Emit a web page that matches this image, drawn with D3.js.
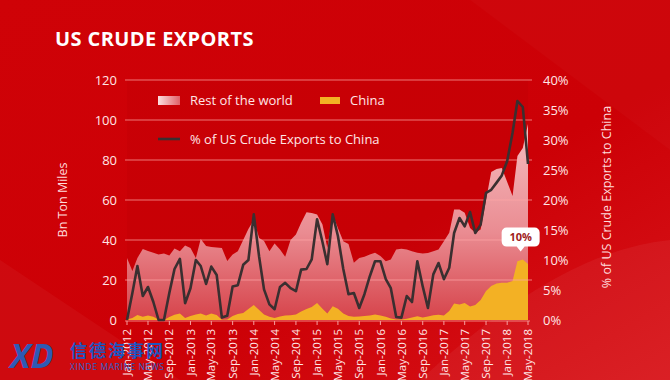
<!DOCTYPE html>
<html><head><meta charset="utf-8">
<script src="https://cdn.jsdelivr.net/npm/d3@7"></script>
<style>
html,body{margin:0;padding:0;background:#cc0000;}
svg{display:block;font-family:"Open Sans","Lato",sans-serif;}
</style></head>
<body>
<svg id="chart" width="670" height="380"></svg>
<script>
// ---------- DATA ----------
const startMonth = "2012-01";
const monthCount = 77; // Jan-2012 .. May-2018
const chinaValues = [0.3,1,2.5,1.6,2.2,1.6,0.2,0,1.5,2.6,3.3,1,2,2.7,3.2,2.3,3.2,2.5,0.1,0.3,
  2,3,3.5,5.5,7.5,5,2.8,1.6,1,1.8,2.2,2.4,2.8,4.2,5.5,6.5,8.5,5.6,3.3,6.9,
  5.6,3.3,2,1.6,1.8,2,2.3,2.7,2.3,1.6,0.8,0.3,0.3,0.6,1.2,1.9,1.2,1.8,2.4,2.6,
  2.3,4.5,8.2,7.8,8.5,6.8,7.5,10,14.5,17,18.3,18.6,18.6,19.5,29.4,30.2,28];
const restValues = [30.7,23.5,28.5,33.9,32.3,32,32.6,33.2,30.7,33.2,31.1,36.2,34,28.3,37.3,34.7,33.3,33.8,35.9,29.2,
  30.7,31.4,36.5,40,42.5,36,36.7,32.8,37.2,33.5,29.4,37.6,39.9,44.4,48.4,47,44.2,42.1,32.8,45.8,
  40.4,36.1,36,27,29.2,29.6,30.4,30.9,29.7,27.8,29.4,35,35.3,34.6,33.2,31.7,32.1,31.7,32,32.7,
  37.1,39.1,47,47.4,45.1,39.2,36.1,35.3,45.5,57,57.2,57.4,50.4,42.5,52.6,55.8,70];
const shareValues = [0,4.5,9,4,5.5,3,0,0,4.5,8.5,10.2,2.8,5.3,10,9,6,8.9,7.5,0.4,0.7,
  5.6,5.8,9.2,10,17.6,10.5,5.1,2.6,1.8,5.5,6.2,5.3,4.8,8.4,8.5,10.1,16.8,13,9.3,17.6,
  14,8.5,4.3,4.5,2,4.3,7.3,9.8,9.8,6.8,5.3,0.5,0.4,4,3,9.8,5.6,2,7.6,9.5,
  6.8,8.7,14.5,17,15.6,18,14.5,15.9,21.2,21.7,22.9,24.1,26.5,31.2,36.5,35.5,26];
const leftTicks = [0,20,40,60,80,100,120];
const rightTicks = [0,5,10,15,20,25,30,35,40];
const seriesNames = ["Rest of the world","China","% of US Crude Exports to China"];
const titleText = "US CRUDE EXPORTS";
const leftAxisTitle = "Bn Ton Miles";
const rightAxisTitle = "% of US Crude Exports to China";
const calloutText = "10%";
const calloutIndex = 74.6;

// ---------- BUILD ----------
const parse = d3.timeParse("%Y-%m");
const t0 = parse(startMonth);
const months = d3.range(monthCount).map(i => d3.timeMonth.offset(t0, i));
const rows = months.map((m,i) => ({date:m, china:chinaValues[i], rest:restValues[i], share:shareValues[i]}));
const stack = d3.stack().keys(["china","rest"])(rows);

const svg = d3.select("#chart");
const W = 670, H = 380;
const x = d3.scaleTime().domain([months[0], months[monthCount-1]]).range([127, 528]);
const yL = d3.scaleLinear().domain([0,120]).range([320,80]);
const yR = d3.scaleLinear().domain([0,40]).range([320,80]);

const defs = svg.append("defs");
const bg = defs.append("linearGradient").attr("id","bg").attr("x1","0").attr("y1","0").attr("x2","1").attr("y2","1");
bg.append("stop").attr("offset","0").attr("stop-color","#cf0207");
bg.append("stop").attr("offset","0.6").attr("stop-color","#cc0006");
bg.append("stop").attr("offset","1").attr("stop-color","#d8141a");
const pink = defs.append("linearGradient").attr("id","pink").attr("gradientUnits","userSpaceOnUse")
  .attr("x1",0).attr("y1",100).attr("x2",0).attr("y2",320);
pink.append("stop").attr("offset","0").attr("stop-color","#f8c8ca");
pink.append("stop").attr("offset","0.6").attr("stop-color","#ea8c92");
pink.append("stop").attr("offset","1").attr("stop-color","#d6434a");
const sw = defs.append("linearGradient").attr("id","sw");
sw.append("stop").attr("offset","0").attr("stop-color","#fbe0e0");
sw.append("stop").attr("offset","1").attr("stop-color","#e06068");

svg.append("rect").attr("width",W).attr("height",H).attr("fill","url(#bg)");
// soft diagonal light bands
svg.append("path").attr("d","M0,260 L180,380 L0,380 Z").attr("fill","#ffffff").attr("opacity",0.04);
svg.append("path").attr("d","M420,380 Q560,250 670,240 L670,380 Z").attr("fill","#ffffff").attr("opacity",0.05);
svg.append("path").attr("d","M470,0 L670,0 L670,150 Z").attr("fill","#ffffff").attr("opacity",0.025);
// plot backdrop
svg.append("rect").attr("x",127).attr("y",yL(120)).attr("width",401).attr("height",yL(0)-yL(120))
  .attr("fill","#a80000").attr("opacity",0.12);

// Title
svg.append("text").attr("x",55).attr("y",46).attr("fill","#fff").attr("font-weight",700)
  .attr("font-size",20).attr("letter-spacing",0.4).text(titleText);

// Areas
const area = d3.area().x(d => x(d.data.date)).y0(d => yL(d[0])).y1(d => yL(d[1])).curve(d3.curveLinear);
const areaFull = d3.area().x(d => x(d.data.date)).y0(yL(0)).y1(d => yL(d[1])).curve(d3.curveLinear);
svg.append("path").datum(stack[1]).attr("d", areaFull).attr("fill","url(#pink)");
svg.append("path").datum(stack[0]).attr("d", area).attr("fill","#f3b124");

// Gridlines
svg.append("g").selectAll("line").data(leftTicks.filter(d=>d>0)).join("line")
  .attr("x1",125).attr("x2",532).attr("y1",d=>yL(d)).attr("y2",d=>yL(d))
  .attr("stroke","#ffa8a8").attr("stroke-width",1.1).attr("opacity",0.7);

// Left axis labels
svg.append("g").selectAll("text").data(leftTicks).join("text")
  .attr("x",117).attr("y",d=>yL(d)).attr("dy","0.36em").attr("text-anchor","end")
  .attr("fill","#ffe6e6").attr("font-size",13).text(d=>d);
// Right axis labels
svg.append("g").selectAll("text").data(rightTicks).join("text")
  .attr("x",543).attr("y",d=>yR(d)).attr("dy","0.36em").attr("text-anchor","start")
  .attr("fill","#ffe6e6").attr("font-size",13).text(d=>d+"%");

// X axis
const xTicks = d3.timeMonth.every(4).range(months[0], d3.timeMonth.offset(months[monthCount-1],1));
const xa = svg.append("g");
xa.append("line").attr("x1",125).attr("x2",530).attr("y1",321).attr("y2",321)
  .attr("stroke","#f28080").attr("stroke-width",1);
xa.selectAll("line.tk").data(xTicks).join("line").attr("class","tk")
  .attr("x1",d=>x(d)).attr("x2",d=>x(d)).attr("y1",321).attr("y2",325)
  .attr("stroke","#f5a0a0");
const fmt = d3.timeFormat("%b-%Y");
xa.selectAll("text").data(xTicks).join("text")
  .attr("transform",d=>`translate(${x(d)},329) rotate(-90)`)
  .attr("dy","0.36em").attr("text-anchor","end").attr("fill","#ffe6e6").attr("font-size",11.5)
  .text(d=>fmt(d));

// Share line
const line = d3.line().x(d=>x(d.date)).y(d=>yR(d.share)).curve(d3.curveLinear);
svg.append("path").datum(rows).attr("d",line).attr("fill","none")
  .attr("stroke","#3a2f30").attr("stroke-width",2.6).attr("stroke-linejoin","round");

// Axis titles
svg.append("text").attr("transform","translate(67,200) rotate(-90)").attr("text-anchor","middle")
  .attr("fill","#ffdcdc").attr("font-size",12.5).text(leftAxisTitle);
svg.append("text").attr("transform","translate(611,197) rotate(-90)").attr("text-anchor","middle")
  .attr("fill","#ffdcdc").attr("font-size",12.5).text(rightAxisTitle);

// Legend
const lg = svg.append("g");
lg.append("rect").attr("x",158).attr("y",96).attr("width",22).attr("height",9).attr("fill","url(#sw)");
lg.append("text").attr("x",190).attr("y",105).attr("fill","#ffe6e6").attr("font-size",13).text(seriesNames[0]);
lg.append("rect").attr("x",320).attr("y",97).attr("width",20).attr("height",7).attr("fill","#f3b124");
lg.append("text").attr("x",350).attr("y",105).attr("fill","#ffe6e6").attr("font-size",13).text(seriesNames[1]);
lg.append("line").attr("x1",158).attr("x2",180).attr("y1",139).attr("y2",139).attr("stroke","#3a2f30").attr("stroke-width",2.6);
lg.append("text").attr("x",190).attr("y",144).attr("fill","#ffe6e6").attr("font-size",13).text(seriesNames[2]);

// Callout
const cx = x(d3.timeMonth.offset(months[0], Math.floor(calloutIndex))) + (calloutIndex%1)*(x(months[1])-x(months[0]));
const cy = yL(chinaValues[Math.round(calloutIndex)]) - 8;
const cg = svg.append("g").attr("transform",`translate(${cx},${cy})`);
cg.append("path").attr("d","M-14,-24 h28 a5,5 0 0 1 5,5 v9 a5,5 0 0 1 -5,5 h-10 l-4,5 l-4,-5 h-10 a5,5 0 0 1 -5,-5 v-9 a5,5 0 0 1 5,-5 Z")
  .attr("fill","#fff");
cg.append("text").attr("x",0).attr("y",-11).attr("text-anchor","middle").attr("fill","#9e1c1c")
  .attr("font-weight",700).attr("font-size",11).text(calloutText);

// Watermark
const wm = svg.append("g");
wm.append("text").attr("x",10).attr("y",368).attr("fill","#1e63c8").attr("font-weight",700)
  .attr("font-style","italic").attr("font-size",34).attr("opacity",0.9).text("XD");
wm.append("text").attr("x",70).attr("y",357).attr("fill","#1e55c0").attr("font-weight",700)
  .attr("font-family","Noto Sans CJK SC").attr("font-size",17).attr("letter-spacing",2).text("信德海事网");
wm.append("text").attr("x",70).attr("y",370).attr("fill","#2a60c8").attr("font-size",8.5)
  .attr("letter-spacing",0.6).text("XINDE MARINE NEWS");
</script>
</body></html>
